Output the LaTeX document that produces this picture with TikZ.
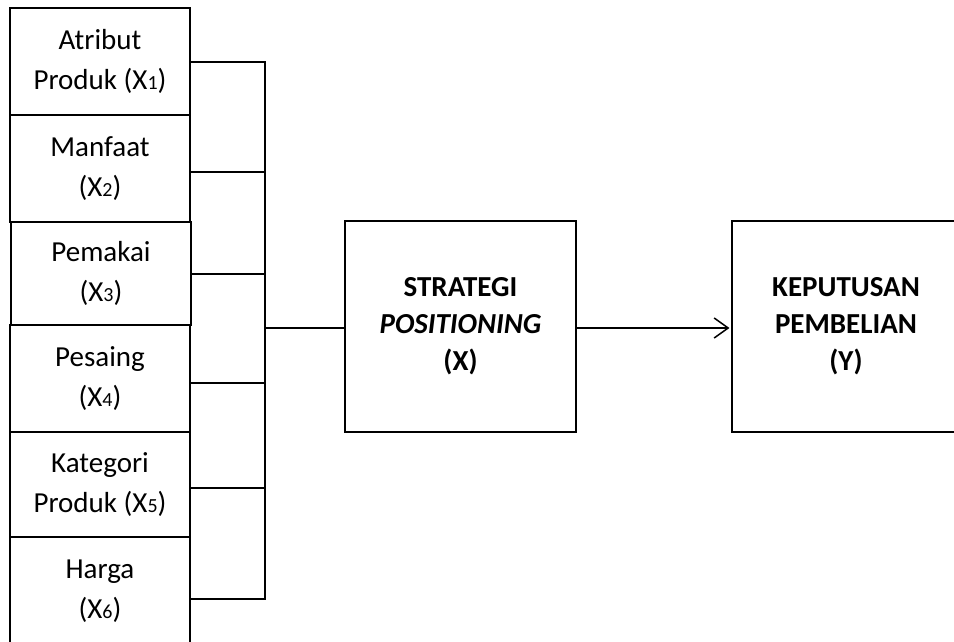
\documentclass[tikz,border=0pt]{standalone}
\usepackage{fontspec}
\setmainfont{Carlito}
\usetikzlibrary{arrows.meta}
\newcommand{\sbx}[1]{{\fontsize{20}{20}\selectfont #1}}
\begin{document}
\begin{tikzpicture}[x=1pt,y=-1pt,
  varbox/.style={draw,line width=1.1pt,minimum width=180pt,inner sep=0pt,align=center,
     font=\fontsize{29}{40}\selectfont},
  mainbox/.style={draw,line width=1.1pt,inner sep=0pt,align=center,
     font=\fontsize{29}{37}\selectfont\bfseries},
  conn/.style={line width=1.5pt}]
\useasboundingbox (0,0) rectangle (954,642);
\node[varbox,minimum height=107pt] (b1) at (100,61.5) {Atribut\\Produk (X\sbx{1})};
\node[varbox,minimum height=107pt] (b2) at (100,168.5) {Manfaat\\(X\sbx{2})};
\node[varbox,minimum height=103pt] (b3) at (101,273.5) {Pemakai\\(X\sbx{3})};
\node[varbox,minimum height=107pt] (b4) at (100,378.5) {Pesaing\\(X\sbx{4})};
\node[varbox,minimum height=105pt] (b5) at (100,484.5) {Kategori\\Produk (X\sbx{5})};
\node[varbox,minimum height=108pt] (b6) at (100,591) {Harga\\(X\sbx{6})};
\node[mainbox,minimum width=231pt,minimum height=211pt] (sx) at (460.5,326.5)
  {STRATEGI\\\textit{POSITIONING}\\(X)};
\node[mainbox,minimum width=228pt,minimum height=211pt] (ky) at (846,326.5)
  {KEPUTUSAN\\PEMBELIAN\\(Y)};
\coordinate (c1) at (265,62);
\coordinate (c2) at (265,172);
\coordinate (c3) at (265,274);
\coordinate (c4) at (265,383);
\coordinate (c5) at (265,488);
\coordinate (c6) at (265,599);
\coordinate (cm) at (265,328);
\draw[conn] (b1.east |- c1) -- (c1) -- (c6) -- (b6.east |- c6);
\draw[conn] (b2.east |- c2) -- (c2);
\draw[conn] (b3.east |- c3) -- (c3);
\draw[conn] (b4.east |- c4) -- (c4);
\draw[conn] (b5.east |- c5) -- (c5);
\draw[conn] (cm) -- (sx.west |- cm);
\draw[conn,-{Straight Barb[length=14pt,width=20pt,line width=1.5pt]}] (sx.east |- cm) -- ([xshift=-2pt]ky.west |- cm);
\end{tikzpicture}
\end{document}
